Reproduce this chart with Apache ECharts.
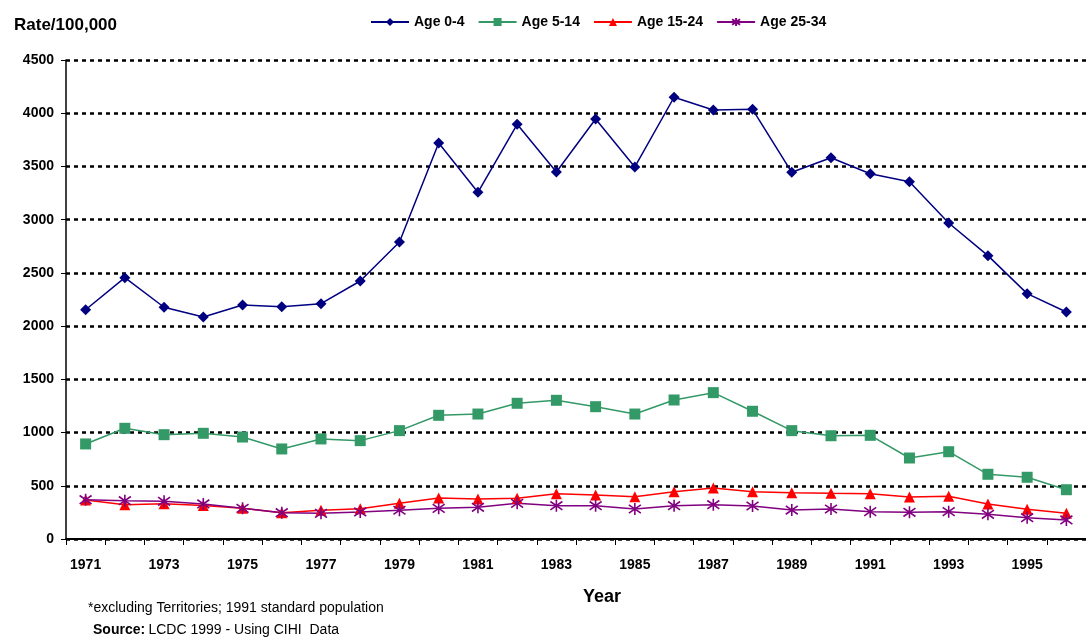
<!DOCTYPE html>
<html>
<head>
<meta charset="utf-8">
<script src="https://cdn.jsdelivr.net/npm/echarts@6/dist/echarts.min.js"></script>
<style>
  html, body { margin: 0; padding: 0; background: #fff; }
  #chart { width: 1086px; height: 637px; }
</style>
</head>
<body>
<div id="chart"></div>
<script>
const years = ["1971","1972","1973","1974","1975","1976","1977","1978","1979","1980","1981","1982","1983",
  "1984","1985","1986","1987","1988","1989","1990","1991","1992","1993","1994","1995","1996"];

const age0to4 = [2154, 2455, 2177, 2086, 2198, 2183, 2211, 2424, 2790, 3720, 3257, 3896, 3448,
  3946, 3495, 4150, 4030, 4037, 3445, 3582, 3432, 3357, 2969, 2662, 2305, 2133];
const age5to14 = [893, 1040, 980, 993, 958, 846, 940, 924, 1018, 1162, 1174, 1275, 1303,
  1243, 1174, 1306, 1375, 1200, 1018, 970, 974, 761, 820, 608, 580, 463];
const age15to24 = [366, 322, 330, 315, 288, 247, 270, 285, 335, 385, 376, 382, 426,
  413, 397, 444, 479, 444, 435, 429, 426, 395, 401, 329, 279, 241];
const age25to34 = [369, 360, 354, 329, 288, 247, 241, 254, 270, 288, 298, 335, 313,
  313, 282, 313, 322, 310, 272, 282, 257, 251, 257, 232, 200, 179];

const font = "Liberation Sans, Arial, sans-serif";
const asterisk = "path://M0,-5L0,5M-4.5,-3.5L4.5,3.5M-4.5,3.5L4.5,-3.5";

function mk(name, data, color, symbol, size, extra) {
  return Object.assign({
    name: name,
    type: "line",
    data: data,
    symbol: symbol,
    symbolSize: size,
    showAllSymbol: true,
    lineStyle: { color: color, width: 1.5 },
    itemStyle: { color: color },
    emphasis: { disabled: true }
  }, extra || {});
}

const chart = echarts.init(document.getElementById("chart"));
chart.setOption({
  animation: false,
  textStyle: { fontFamily: font },
  title: {
    text: "Rate/100,000",
    left: 9, top: 12,
    textStyle: { fontFamily: font, fontSize: 17, fontWeight: "bold", color: "#000" }
  },
  legend: {
    top: 10, left: 365,
    itemWidth: 38, itemHeight: 10, itemGap: 13,
    textStyle: { fontFamily: font, fontSize: 14, fontWeight: "bold", color: "#000" },
    data: ["Age 0-4", "Age 5-14", "Age 15-24", "Age 25-34"]
  },
  grid: { left: 66, right: -11, top: 60, bottom: 98, containLabel: false },
  xAxis: {
    type: "category",
    data: years,
    boundaryGap: true,
    axisLine: { lineStyle: { color: "#000", width: 2 } },
    axisTick: { show: true, length: 6, interval: 0, lineStyle: { color: "#000", width: 1 } },
    axisLabel: {
      interval: 1, margin: 19,
      fontFamily: font, fontSize: 14, fontWeight: "bold", color: "#000"
    },
    splitLine: { show: false }
  },
  yAxis: {
    type: "value",
    min: 0, max: 4500, interval: 500,
    axisLine: { show: true, lineStyle: { color: "#000", width: 1.5 } },
    axisTick: { show: true, length: 5, lineStyle: { color: "#000" } },
    axisLabel: {
      margin: 12, fontFamily: font, fontSize: 14, fontWeight: "bold", color: "#000",
      formatter: function (v) { return String(v); }
    },
    splitLine: { show: true, lineStyle: { color: "#000", type: [4, 4], width: 2.5 } }
  },
  series: [
    mk("Age 0-4", age0to4, "#000080", "diamond", 11),
    mk("Age 5-14", age5to14, "#339966", "rect", 11),
    mk("Age 15-24", age15to24, "#ff0000", "triangle", 11),
    mk("Age 25-34", age25to34, "#800080", asterisk, 12, {
      itemStyle: { color: "none", borderColor: "#800080", borderWidth: 1.6 }
    })
  ],
  graphic: [
    { type: "text", left: 583, top: 588,
      style: { text: "Year", font: "bold 18px " + font, fill: "#000" } },
    { type: "text", left: 88, top: 601,
      style: { text: "*excluding Territories; 1991 standard population", font: "14px " + font, fill: "#000" } },
    { type: "text", left: 93, top: 623,
      style: { rich: { b: { font: "bold 14px " + font, fill: "#000" }, n: { font: "14px " + font, fill: "#000" } },
               text: "{b|Source:} {n|LCDC 1999 - Using CIHI  Data}" } }
  ]
});
</script>
</body>
</html>
